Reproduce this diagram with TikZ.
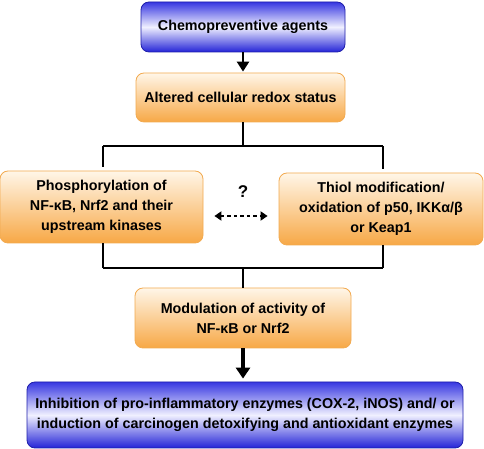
\documentclass[tikz,border=0pt]{standalone}
\usepackage{fontspec}
\setmainfont{Liberation Sans}
\usetikzlibrary{arrows.meta,calc}
\definecolor{bluetop}{RGB}{55,55,225}
\definecolor{bluemid}{RGB}{240,240,255}
\definecolor{bluebot}{RGB}{35,35,215}
\definecolor{blueedge}{RGB}{30,30,170}
\definecolor{orgtop}{RGB}{255,246,232}
\definecolor{orgbot}{RGB}{247,168,70}
\definecolor{orgedge}{RGB}{242,170,80}
\tikzset{
  bluebox/.style={draw=blueedge, line width=0.8pt, rounded corners=8pt, top color=bluetop, bottom color=bluebot, middle color=bluemid, align=center, font=\bfseries\fontsize{14.3}{20}\selectfont, inner sep=0pt},
  orgbox/.style={draw=orgedge, line width=0.8pt, rounded corners=8pt, top color=orgtop, bottom color=orgbot, align=center, font=\bfseries\fontsize{14.3}{20}\selectfont, inner sep=0pt},
  conn/.style={line width=2pt, black},
  arr/.style={line width=2.6pt, -{Triangle[length=10pt,width=12pt]}},
  bigarr/.style={line width=3.8pt, -{Triangle[length=11pt,width=14pt]}}
}
\begin{document}
\begin{tikzpicture}[x=1pt,y=1pt]
\useasboundingbox (0,0) rectangle (484,449);
\node[bluebox, minimum width=204pt, minimum height=50pt] (b1) at (243,422) {Chemopreventive agents};
\node[orgbox, minimum width=209pt, minimum height=49pt] (b2) at (240.5,351.5) {Altered cellular redox status};
\node[orgbox, minimum width=203pt, minimum height=72pt] (b3) at (101.5,242) {Phosphorylation of\\NF-κB, Nrf2 and their\\upstream kinases};
\node[orgbox, minimum width=204pt, minimum height=72pt] (b4) at (381,240) {Thiol modification/\\oxidation of p50, IKKα/β\\or Keap1};
\node[orgbox, minimum width=216pt, minimum height=60pt] (b5) at (243,131) {Modulation of activity of\\NF-κB or Nrf2};
\node[bluebox, minimum width=436pt, minimum height=66pt] (b6) at (245,34) {Inhibition of pro-inflammatory enzymes (COX-2, iNOS) and/ or\\induction of carcinogen detoxifying and antioxidant enzymes};
\node[font=\bfseries\fontsize{17}{17}\selectfont] (q) at (243,257) {?};
\coordinate (t1) at (243,303);
\coordinate (t1l) at (103,303);
\coordinate (t1r) at (383,303);
\coordinate (t2) at (243,181);
\coordinate (t2l) at (103,181);
\coordinate (t2r) at (383,181);
\draw[arr] (b1.south -| 243,0) -- ($(b2.north -| 243,0)+(0,1)$);
\draw[conn] (b2.south -| t1) -- (t1);
\draw[conn] (t1l) -- (t1r);
\draw[conn] (t1l) -- ($(b3.north -| t1l)+(0,4)$);
\draw[conn] (t1r) -- ($(b4.north -| t1r)+(0,4)$);
\draw[conn] (t2l) -- (t2r);
\draw[conn] (t2l) -- (b3.south -| t2l);
\draw[conn] (t2r) -- (b4.south -| t2r);
\draw[conn] (t2) -- (b5.north -| t2);
\draw[line width=2.6pt, dash pattern=on 3.5pt off 3pt, {Triangle[length=7pt,width=9pt]}-{Triangle[length=7pt,width=9pt]}] ($(b3.east)+(11,-9)$) -- ($(b4.west)+(-11,-7)$);
\draw[bigarr] (b5.south -| 243,0) -- ($(b6.north -| 243,0)+(0,3)$);
\end{tikzpicture}
\end{document}
